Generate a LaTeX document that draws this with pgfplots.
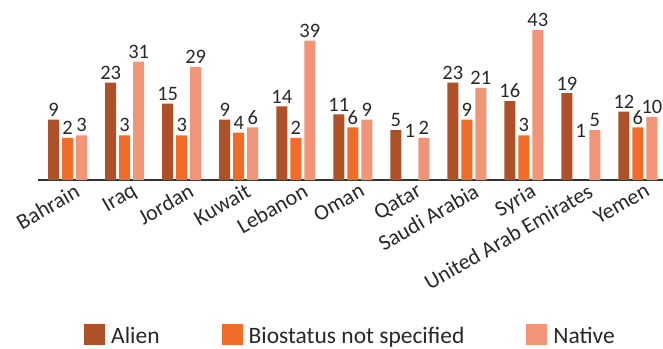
\documentclass[border=0pt]{standalone}
\usepackage{pgfplots}
\usepackage{pgfplotstable}
\usepackage{fontspec}
\setmainfont{Carlito}
\pgfplotsset{compat=1.18}

\definecolor{alien}{RGB}{174,80,40}
\definecolor{biostat}{RGB}{240,108,40}
\definecolor{native}{RGB}{242,148,120}
\definecolor{txt}{RGB}{40,40,40}

% x = country index, h = bar height as drawn (baseline sits 14 below zero), n = label
\pgfplotstableread{
x h n
0 23 9
1 37 23
2 29 15
3 23 9
4 28 14
5 25 11
6 19 5
7 37 23
8 30 16
9 33 19
10 26 12
}\alien
\pgfplotstableread{
x h n
0 16 2
1 17 3
2 17 3
3 18 4
4 16 2
5 20 6
7 23 9
8 17 3
10 20 6
}\biostat
% the two "1" bars are not drawn in the original, only their labels
\pgfplotstableread{
x h n
6 15 1
9 15 1
}\biostathidden
\pgfplotstableread{
x h n
0 17 3
1 45 31
2 43 29
3 20 6
4 53 39
5 23 9
6 16 2
7 35 21
8 57 43
9 19 5
10 24 10
}\native

\begin{document}
\begin{tikzpicture}
\begin{axis}[
  scale only axis,
  width=625pt, height=180pt,
  xmin=-0.52, xmax=10.44,
  ymin=0, ymax=68.44,
  ybar, bar width=11pt,
  clip=false,
  axis x line*=bottom,
  axis y line=none,
  x axis line style={-, line width=2.5pt, color=black!80},
  major tick length=0pt,
  xtick={0,...,10},
  xticklabels={Bahrain,Iraq,Jordan,Kuwait,Lebanon,Oman,Qatar,Saudi Arabia,Syria,United Arab Emirates,Yemen},
  xticklabel style={font=\fontsize{22}{24}\selectfont, text=txt, rotate=30, anchor=north east, inner sep=2pt, xshift=6pt, yshift=-3pt},
  point meta=explicit symbolic,
  nodes near coords={\pgfplotspointmeta},
  every node near coord/.append style={font=\fontsize{20.5}{22}\selectfont, text=txt, inner sep=3pt},
  legend columns=3,
  legend style={at={(0.5,-0.862)}, anchor=center, draw=none, fill=none,
    font=\fontsize{23.5}{26}\selectfont, text=txt,
    /tikz/every even column/.append style={column sep=60pt}},
  legend image code/.code={\fill[#1] (-8pt,-9pt) rectangle (13pt,12pt);},
]
\addplot[fill=alien, draw=none, bar shift=-14pt] table[x=x, y=h, meta=n] {\alien};
\addlegendentry{\hspace{4pt}Alien}
\addplot[fill=biostat, draw=none, bar shift=0pt] table[x=x, y=h, meta=n] {\biostat};
\addlegendentry{\hspace{4pt}Biostatus not specified\hspace{13pt}}
\addplot[fill=native, draw=none, bar shift=14pt] table[x=x, y=h, meta=n] {\native};
\addlegendentry{\hspace{4pt}Native}
\addplot[fill=none, draw=none, bar shift=0pt, forget plot] table[x=x, y=h, meta=n] {\biostathidden};
\end{axis}
\pgfresetboundingbox
\path (-38pt,-168pt) rectangle (625pt,180pt);
\end{tikzpicture}
\end{document}
